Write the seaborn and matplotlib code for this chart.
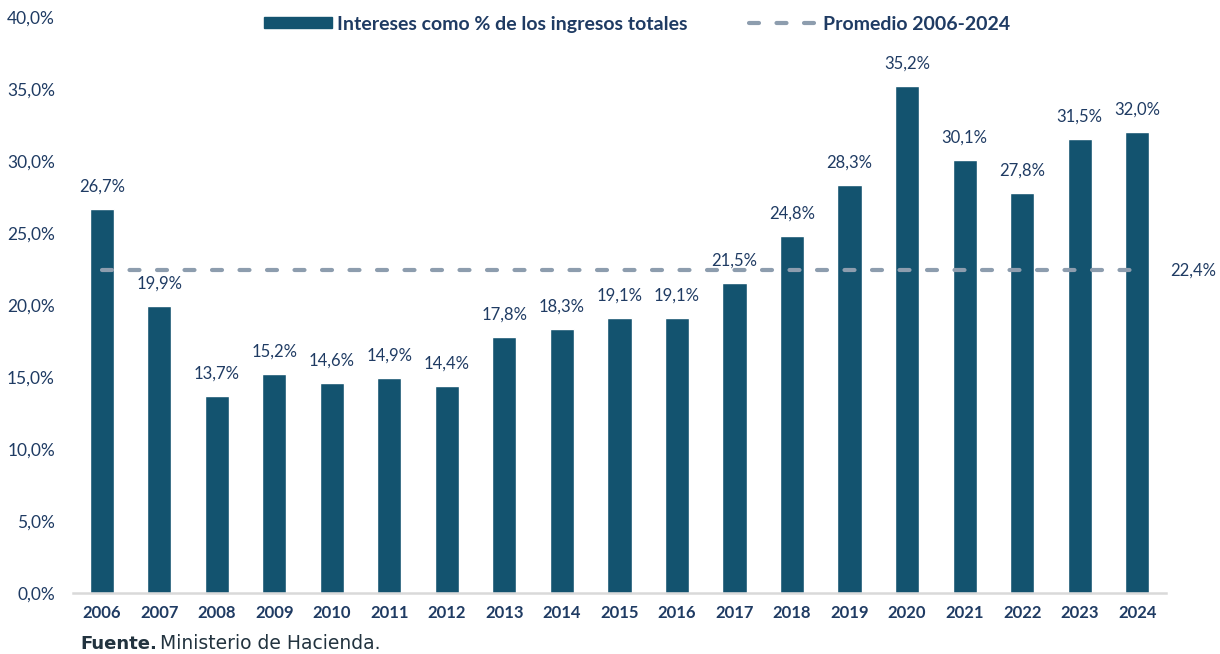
import matplotlib
matplotlib.use("Agg")
import matplotlib.pyplot as plt
import seaborn as sns
import pandas as pd
from matplotlib.lines import Line2D
from matplotlib.patches import Patch

years = ["2006", "2007", "2008", "2009", "2010", "2011", "2012", "2013", "2014", "2015",
         "2016", "2017", "2018", "2019", "2020", "2021", "2022", "2023", "2024"]
values = [26.7, 19.9, 13.7, 15.2, 14.6, 14.9, 14.4, 17.8, 18.3, 19.1,
          19.1, 21.5, 24.8, 28.3, 35.2, 30.1, 27.8, 31.5, 32.0]
average = 22.4
yticks = [0, 5, 10, 15, 20, 25, 30, 35, 40]
series_label = "Intereses como % de los ingresos totales"
avg_label = "Promedio 2006-2024"
source_bold = "Fuente."
source_text = "Ministerio de Hacienda."

BAR = "#13536F"
TXT = "#1F3B63"
AVG = "#8D9DAE"
DASH = (0, (2.4, 4.2))

sns.set_theme(style="white")
plt.rcParams["font.family"] = ["Lato", "DejaVu Sans"]

df = pd.DataFrame({"year": years, "value": values})

fig = plt.figure(figsize=(12.2, 6.54), dpi=100)
ax = fig.add_axes([0.0598, 0.0933, 0.8959, 0.8807])

sns.barplot(data=df, x="year", y="value", color=BAR, width=0.42, saturation=1, ax=ax)
ax.set_xlim(-0.5, 18.5)
ax.set_ylim(0, 40)

ax.plot([0, 18], [average, average], color=AVG, lw=3.0, ls=DASH,
        dash_capstyle="round", zorder=3)
ax.text(18.57, average, f"{average:.1f}%".replace(".", ","), color=TXT, fontsize=12,
        va="center", ha="left", clip_on=False)

for i, v in enumerate(values):
    ax.annotate(f"{v:.1f}%".replace(".", ","), (i, v), xytext=(0, 12.5),
                textcoords="offset points", ha="center", va="baseline", color=TXT, fontsize=12)

ax.set_yticks(yticks)
ax.set_yticklabels([f"{t:.1f}%".replace(".", ",") for t in yticks], color=TXT, fontsize=12.5)
ax.set_xticks(range(len(years)))
ax.set_xticklabels(years, color=TXT, fontsize=12, fontweight="bold")
ax.tick_params(axis="y", length=0, pad=13)
ax.tick_params(axis="x", length=0, pad=9)
ax.set_xlabel("")
ax.set_ylabel("")
for s in ["top", "right", "left"]:
    ax.spines[s].set_visible(False)
ax.spines["bottom"].set_color("#D9D9D9")
ax.spines["bottom"].set_linewidth(1.8)

handles = [Patch(facecolor=BAR, edgecolor=BAR),
           Line2D([0], [0], color=AVG, lw=3.0, ls=DASH, dash_capstyle="round")]
leg = fig.legend(handles, [series_label, avg_label], loc="center", bbox_to_anchor=(0.522, 0.963),
                 ncol=2, frameon=False, handlelength=3.5, handleheight=0.5, columnspacing=3.15,
                 handletextpad=0.3, prop={"size": 14, "weight": "bold"})
for t in leg.get_texts():
    t.set_color(TXT)

fig.text(0.0655, 0.0075, source_bold, fontsize=13, fontweight="bold", color="#22333F",
         ha="left", va="baseline", family=["DejaVu Sans"])
fig.text(0.131, 0.0075, source_text, fontsize=13.5, color="#22333F",
         ha="left", va="baseline", family=["DejaVu Sans"])

fig.savefig("out.png", dpi=100)
